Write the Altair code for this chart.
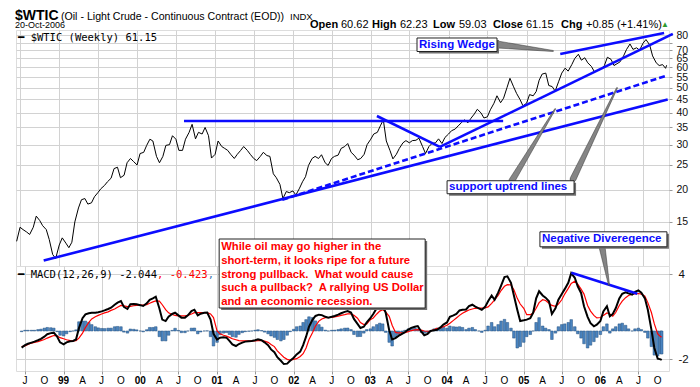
import altair as alt
import pandas as pd

# ---------------- data ----------------
# sample dates: mid-June 1998, then the 1st and 15th of each month, then the last weekly close
dates = ["1998-06-15"] + [f"1998-{m:02d}-{d:02d}" for m in range(7, 13) for d in (1, 15)]
for yr in range(1999, 2006):
    dates += [f"{yr}-{m:02d}-{d:02d}" for m in range(1, 13) for d in (1, 15)]
dates += [f"2006-{m:02d}-{d:02d}" for m in range(1, 11) for d in (1, 15)] + ["2006-10-20"]

price_1998 = [12.6, 14.3, 14.0, 13.7, 13.4, 14.3, 15.8, 15.2, 14.5, 14.0, 12.8, 11.2, 10.8]
price_1999 = [12.2, 13.0, 12.4, 11.9, 12.5, 15.0, 17.0, 18.3, 18.5, 17.6, 17.8, 18.8,
              19.5, 20.2, 20.8, 21.5, 22.2, 24.2, 24.5, 22.3, 22.8, 25.5, 26.5, 25.8]
price_2000 = [25.0, 27.7, 28.0, 29.8, 31.5, 31.0, 27.0, 25.5, 27.0, 29.8, 30.0, 32.5,
              31.5, 28.5, 28.5, 31.5, 33.5, 36.0, 31.6, 33.5, 33.0, 35.0, 32.5, 26.6]
price_2001 = [27.5, 31.0, 29.5, 29.0, 28.5, 27.5, 26.5, 27.5, 28.5, 29.5, 28.5, 27.5,
              26.5, 26.0, 27.0, 28.0, 27.2, 27.0, 23.1, 22.3, 21.0, 18.5, 19.7, 19.5]
price_2002 = [19.8, 19.1, 20.3, 21.5, 22.5, 24.9, 26.5, 27.0, 26.5, 27.4, 25.5, 24.9,
              26.5, 27.0, 27.3, 29.0, 29.5, 30.3, 28.0, 27.3, 26.2, 26.5, 27.5, 30.0]
price_2003 = [31.5, 33.0, 33.5, 35.5, 37.5, 31.0, 28.5, 26.4, 27.5, 29.0, 30.5, 31.1,
              30.5, 31.1, 31.2, 31.8, 29.5, 27.7, 29.5, 30.3, 30.5, 31.6, 30.3, 32.0]
price_2004 = [33.0, 34.0, 34.5, 35.5, 36.5, 37.5, 36.5, 38.0, 39.5, 41.2, 39.9, 38.1,
              38.5, 41.0, 43.5, 46.5, 43.7, 45.5, 50.0, 54.4, 50.4, 47.5, 45.0, 42.5]
price_2005 = [43.5, 47.0, 46.5, 48.3, 53.5, 56.5, 57.0, 51.0, 50.5, 48.5, 53.0, 57.0,
              59.6, 58.0, 61.5, 65.0, 67.5, 64.0, 65.4, 62.5, 60.5, 57.7, 58.5, 59.0]
price_2006 = [61.0, 65.7, 64.5, 61.0, 62.0, 63.0, 66.5, 70.5, 74.0, 70.5, 71.5, 70.0,
              74.5, 77.0, 73.5, 66.5, 62.5, 61.0, 61.5, 59.5, 61.15]

macd_1998 = [-1.17, -1.0, -0.9, -0.82, -0.75, -0.65, -0.55, -0.4, -0.23, -0.15, -0.12, -0.4, -0.8]
macd_1999 = [-0.94, -0.8, -0.72, -0.70, -0.6, 0.2, 0.9, 1.17, 1.25, 1.29, 1.29, 1.32,
             1.38, 1.45, 1.55, 1.64, 1.85, 2.0, 2.11, 1.7, 1.55, 1.88, 1.9, 1.88]
macd_2000 = [1.82, 1.76, 1.95, 2.2, 2.3, 2.42, 1.6, 0.8, 0.7, 1.0, 1.2, 1.29,
             1.1, 0.94, 0.94, 1.1, 1.4, 1.5, 1.1, 1.22, 1.29, 1.3, 0.8, -0.2]
macd_2001 = [-0.6, -0.47, -0.45, -0.47, -0.7, -0.95, -1.06, -0.92, -0.82, -0.75, -0.72, -0.70,
             -0.65, -0.59, -0.65, -0.8, -1.0, -1.3, -1.5, -1.85, -2.1, -2.33, -2.3, -2.1]
macd_2002 = [-1.88, -1.65, -1.45, -1.0, -0.4, 0.3, 0.8, 1.06, 1.15, 1.12, 1.0, 0.94,
             1.0, 1.06, 1.15, 1.25, 1.35, 1.41, 1.3, 0.85, 0.5, 0.21, 0.3, 0.6]
macd_2003 = [0.9, 1.2, 1.62, 1.78, 1.82, 1.3, 0.05, -0.6, -0.5, -0.35, -0.2, -0.08,
             0.1, 0.22, 0.3, 0.35, -0.05, -0.3, -0.2, 0.0, 0.05, 0.09, 0.25, 0.45]
macd_2004 = [0.6, 1.0, 1.1, 1.2, 1.45, 1.5, 1.52, 1.75, 1.85, 1.72, 1.6, 1.5,
             1.7, 2.1, 2.5, 2.2, 2.7, 3.2, 3.8, 3.85, 3.4, 2.5, 1.5, 0.7]
macd_2005 = [0.75, 0.8, 0.9, 1.3, 2.3, 2.8, 2.5, 2.35, 2.1, 1.2, 1.6, 2.2,
             2.6, 2.95, 3.4, 4.08, 3.75, 3.15, 2.68, 1.74, 1.0, 0.55, 0.33, 0.45]
macd_2006 = [0.7, 1.38, 1.74, 1.03, 1.2, 1.6, 2.3, 2.62, 2.72, 2.65, 2.56, 2.75,
             2.86, 2.7, 2.3, 1.5, 0.1, -1.2, -1.95, -2.0, -2.044]

sig_1998 = [-1.1, -1.05, -0.95, -0.85, -0.8, -0.75, -0.68, -0.6, -0.5, -0.4, -0.32, -0.35, -0.47]
sig_1999 = [-0.55, -0.62, -0.68, -0.70, -0.68, -0.5, -0.15, 0.25, 0.6, 0.85, 1.0, 1.1,
            1.2, 1.28, 1.35, 1.45, 1.55, 1.68, 1.8, 1.78, 1.72, 1.74, 1.78, 1.8]
sig_2000 = [1.82, 1.82, 1.86, 1.95, 2.05, 2.12, 2.1, 1.85, 1.5, 1.28, 1.16, 1.1,
            1.06, 1.06, 1.06, 1.1, 1.2, 1.29, 1.3, 1.29, 1.29, 1.29, 1.2, 0.95]
sig_2001 = [0.0, -0.2, -0.3, -0.36, -0.45, -0.55, -0.62, -0.68, -0.7, -0.7, -0.7, -0.7,
            -0.7, -0.68, -0.68, -0.72, -0.8, -0.95, -1.1, -1.4, -1.65, -1.85, -2.0, -2.05]
sig_2002 = [-2.0, -1.95, -1.8, -1.6, -1.2, -0.6, -0.1, 0.35, 0.7, 0.85, 0.94, 0.95,
            0.95, 1.0, 1.05, 1.1, 1.15, 1.2, 1.2, 1.1, 0.9, 0.6, 0.45, 0.5]
sig_2003 = [0.8, 0.92, 1.2, 1.4, 1.5, 1.35, 1.03, 0.4, -0.1, -0.14, -0.14, -0.12,
            -0.05, 0.03, 0.08, 0.1, 0.06, 0.0, -0.02, 0.0, 0.1, 0.18, 0.21, 0.3]
sig_2004 = [0.4, 0.55, 0.75, 0.92, 1.1, 1.25, 1.38, 1.48, 1.55, 1.6, 1.62, 1.62,
            1.62, 1.7, 1.95, 2.2, 2.5, 2.85, 3.15, 3.26, 3.25, 2.9, 2.3, 1.9]
sig_2005 = [1.6, 1.15, 1.15, 1.27, 1.6, 2.0, 2.2, 2.15, 1.95, 1.8, 1.74, 1.9,
            2.2, 2.6, 3.0, 3.35, 3.5, 3.3, 2.95, 2.6, 1.8, 1.4, 1.1, 0.92]
sig_2006 = [0.95, 1.1, 1.27, 1.2, 1.05, 1.3, 1.8, 2.1, 2.35, 2.5, 2.6, 2.62,
            2.64, 2.6, 2.45, 2.0, 1.3, 0.5, -0.2, -0.4, -0.423]

hist_1998 = [-0.05, 0.05, 0.05, 0.05, 0.05, 0.1, 0.13, 0.2, 0.25, 0.23, 0.2, -0.05, -0.3]
hist_1999 = [-0.35, -0.2, -0.05, 0.0, 0.08, 0.65, 0.7, 0.7, 0.6, 0.45, 0.3, 0.22,
             0.18, 0.17, 0.2, 0.2, 0.3, 0.32, 0.3, -0.08, -0.15, 0.14, 0.12, 0.08]
hist_2000 = [0.0, -0.06, 0.09, 0.25, 0.25, 0.3, -0.4, -0.7, -0.7, -0.3, 0.04, 0.19,
             0.04, -0.12, -0.12, 0.0, 0.2, 0.21, -0.2, -0.07, 0.0, 0.01, -0.4, -1.06]
hist_2001 = [-0.8, -0.27, -0.15, -0.11, -0.25, -0.4, -0.44, -0.24, -0.12, -0.05, -0.02, 0.0,
             0.05, 0.09, 0.03, -0.08, -0.2, -0.35, -0.45, -0.6, -0.7, -0.6, -0.3, -0.05]
hist_2002 = [0.12, 0.3, 0.35, 0.6, 0.8, 1.0, 0.95, 0.71, 0.45, 0.27, 0.06, 0.0,
             0.05, 0.06, 0.1, 0.15, 0.2, 0.21, 0.1, -0.25, -0.4, -0.39, -0.15, 0.1]
hist_2003 = [0.15, 0.3, 0.45, 0.55, 0.5, -0.1, -0.8, -1.06, -0.45, -0.25, -0.1, 0.05,
             0.15, 0.2, 0.2, 0.15, -0.1, -0.15, -0.1, 0.0, 0.15, 0.2, 0.25, 0.3]
hist_2004 = [0.2, 0.35, 0.3, 0.28, 0.3, 0.25, 0.1, 0.2, 0.25, 0.1, 0.0, -0.1,
             0.05, 0.35, 0.6, 0.3, 0.45, 0.7, 0.82, 0.6, 0.2, -0.5, -1.2, -1.1]
hist_2005 = [-0.8, -0.4, -0.25, 0.0, 0.6, 0.94, 0.35, 0.2, 0.1, -0.6, -0.15, 0.3,
             0.45, 0.5, 0.6, 0.8, 0.3, -0.2, -0.5, -0.9, -1.2, -1.0, -0.75, -0.45]
hist_2006 = [-0.25, 0.3, 0.5, -0.15, 0.15, 0.3, 0.5, 0.55, 0.4, 0.15, 0.0, 0.15,
             0.2, 0.1, -0.1, -0.5, -1.1, -1.7, -1.75, -1.6, -1.621]

price = price_1998 + price_1999 + price_2000 + price_2001 + price_2002 + price_2003 + price_2004 + price_2005 + price_2006
macd = macd_1998 + macd_1999 + macd_2000 + macd_2001 + macd_2002 + macd_2003 + macd_2004 + macd_2005 + macd_2006
signal = sig_1998 + sig_1999 + sig_2000 + sig_2001 + sig_2002 + sig_2003 + sig_2004 + sig_2005 + sig_2006
hist = hist_1998 + hist_1999 + hist_2000 + hist_2001 + hist_2002 + hist_2003 + hist_2004 + hist_2005 + hist_2006
assert len(dates) == len(price) == len(macd) == len(signal) == len(hist)

# trend lines drawn on the price panel (start date, end date, start price, end price)
tl_start = ["2000-08-08", "2003-01-30", "1998-10-20", "2003-11-21", "2005-06-08"]
tl_end = ["2004-09-13", "2003-11-21", "2006-10-25", "2006-11-18", "2006-10-08"]
tl_p1 = [37.1, 38.8, 10.6, 29.4, 67.7]
tl_p2 = [37.1, 29.4, 45.0, 81.0, 81.7]
dash_start, dash_end, dash_p1, dash_p2 = ["2001-11-12"], ["2006-10-17"], [18.3], [55.6]
# MACD divergence line
div_start, div_end, div_v1, div_v2 = ["2005-08-16"], ["2006-06-26"], [4.1], [2.63]

# callout pointers (id, date, value, width)
ptr_id = ["rw", "rw", "s1", "s1", "s2", "s2"]
ptr_date = ["2004-08-15", "2005-05-05", "2004-10-24", "2005-05-15", "2005-08-07", "2006-03-01"]
ptr_price = [73.7, 69.5, 21.7, 41.3, 22.05, 49.9]
ptr_w = [7, 1, 6, 1, 6, 1]
nd_ptr_date = ["2006-01-09", "2006-02-11"]
nd_ptr_val = [5.92, 3.24]
nd_ptr_w = [6, 1]

# x-axis tick labels (quarters)
tick_dates = [f"{y}-{m:02d}-01" for y in range(1998, 2007) for m in (1, 4, 7, 10)
              if (1998, 7) <= (y, m) <= (2006, 10)]
tick_labels = ["J", "O", "99", "A", "J", "O", "00", "A", "J", "O", "01", "A", "J", "O",
               "02", "A", "J", "O", "03", "A", "J", "O", "04", "A", "J", "O", "05", "A",
               "J", "O", "06", "A", "J", "O"]
assert len(tick_dates) == len(tick_labels)

quote_names = ["Open", "High", "Low", "Close", "Chg"]
quote_values = ["60.62", "62.23", "59.03", "61.15", "+0.85 (+1.41%)"]
price_ticks = [15, 20, 25, 30, 35, 40, 45, 50, 55, 60, 65, 70, 75, 80]
macd_ticks = [-2, 0, 2, 4]
note_lines = ["While oil may go higher in the",
              "short-term, it looks ripe for a future",
              "strong pullback.\u00a0 What would cause",
              "such a pullback?\u00a0 A rallying US Dollar",
              "and an economic recession."]

# ---------------- styling ----------------
BLUE = "#0c0cff"
GRID = "#d2d2d2"
FONT = "Liberation Sans"
MONO = "DejaVu Sans Mono"
W, H_PRICE, H_MACD = 653, 236, 105


def ms(s):
    return int(pd.Timestamp(s, tz="UTC").value // 10**6)


xs = alt.Scale(type="utc", domain=[alt.DateTime(year=1998, month=6, date=12, utc=True),
                                   alt.DateTime(year=2006, month=10, date=31, utc=True)])
quarters = [alt.DateTime(year=int(d[:4]), month=int(d[5:7]), date=1, utc=True) for d in tick_dates]


def label(s, x, y, size=11, weight="normal", color="black", font=FONT, baseline="alphabetic"):
    return alt.Chart(pd.DataFrame({"s": [s]})).mark_text(
        align="left", baseline=baseline, font=font, fontSize=size, fontWeight=weight, color=color
    ).encode(x=alt.value(x), y=alt.value(y), text="s:N")


def box(t, v, w, h, text, color, size, dy, baseline="middle", line_h=None):
    """Callout box whose top-left corner is anchored at (date t, value v)."""
    df = pd.DataFrame({"t": [ms(t)], "v": [v], "s": [text]})
    base = alt.Chart(df).encode(x="t:T", x2="t", y="v:Q", y2="v")
    shadow = base.mark_rect(xOffset=2, x2Offset=w + 2, yOffset=2, y2Offset=h + 2, fill="#707070")
    frame = base.mark_rect(x2Offset=w, y2Offset=h, fill="white", stroke="#222", strokeWidth=1)
    kw = dict(align="left", baseline=baseline, dx=2, dy=dy, font=FONT, fontSize=size,
              fontWeight="bold", color=color)
    if line_h:
        kw.update(lineBreak="\n", lineHeight=line_h)
    txt = alt.Chart(df).mark_text(**kw).encode(x="t:T", y="v:Q", text="s:N")
    return [shadow, frame, txt]


def note_box(t, y_top, w, h, text, color, size, line_h):
    """Callout box anchored at date t horizontally and at pixel row y_top of the panel."""
    df = pd.DataFrame({"t": [ms(t)], "s": [text]})
    base = alt.Chart(df)
    shadow = base.mark_rect(xOffset=2, x2Offset=w + 2, fill="#707070").encode(
        x="t:T", x2="t", y=alt.value(y_top + 2), y2=alt.value(y_top + h + 2))
    frame = base.mark_rect(x2Offset=w, fill="white", stroke="#222", strokeWidth=1).encode(
        x="t:T", x2="t", y=alt.value(y_top), y2=alt.value(y_top + h))
    txt = base.mark_text(align="left", baseline="top", dx=2, font=FONT, fontSize=size,
                         fontWeight="bold", color=color, lineBreak="\n",
                         lineHeight=line_h).encode(
        x="t:T", y=alt.value(y_top + 2.2), text="s:N")
    return [shadow, frame, txt]


def trail(ids, ds, vs, ws, yname):
    df = pd.DataFrame({"id": ids, "t": [ms(d) for d in ds], yname: vs, "w": ws})
    return alt.Chart(df).mark_trail(color="#858585", stroke="#333", strokeWidth=0.5).encode(
        x="t:T", y=f"{yname}:Q", size=alt.Size("w:Q", scale=None, legend=None), detail="id:N")


# ---------------- price panel ----------------
df_price = pd.DataFrame({"date": dates, "price": price})
price_line = alt.Chart(df_price).mark_line(color="black", strokeWidth=1).encode(
    x=alt.X("date:T", scale=xs, title=None,
            axis=alt.Axis(values=quarters, grid=True, gridColor=GRID, labels=False,
                          ticks=False, domain=False)),
    y=alt.Y("price:Q", title=None,
            scale=alt.Scale(type="log", domain=[10.1, 83.9], nice=False),
            axis=alt.Axis(orient="right", values=price_ticks, grid=True, gridColor=GRID,
                          labelExpr="datum.value == 75 ? '' : datum.label", labelOverlap=False,
                          tickSize=3, tickColor="#999", domain=False, labelFont=FONT,
                          labelFontSize=10.5, labelColor="#111", labelPadding=4)),
)

df_tl = pd.DataFrame({"t1": [ms(d) for d in tl_start], "t2": [ms(d) for d in tl_end],
                      "p1": tl_p1, "p2": tl_p2})
solid = alt.Chart(df_tl).mark_rule(color=BLUE, strokeWidth=2.6).encode(
    x="t1:T", x2="t2", y="p1:Q", y2="p2")
df_dash = pd.DataFrame({"t1": [ms(d) for d in dash_start], "t2": [ms(d) for d in dash_end],
                        "p1": dash_p1, "p2": dash_p2})
dashed = alt.Chart(df_dash).mark_rule(color=BLUE, strokeWidth=2.6, strokeDash=[6, 3]).encode(
    x="t1:T", x2="t2", y="p1:Q", y2="p2")

ptrs = trail(ptr_id, ptr_date, ptr_price, ptr_w, "price")

legend_price = label(f"\u2501 $WTIC (Weekly) {price[-1]:.2f}", 2, 10.5, size=10.5, font=MONO)

header = [
    label("$WTIC", -1, -10.5, size=14, weight="bold"),
    label("(Oil - Light Crude - Continuous Contract (EOD))", 45, -10.5, size=10.6),
    label("INDX", 274, -10.5, size=9.5),
    label("20-Oct-2006", -1, -2, size=9),
]
name_x = [294, 356, 417, 477, 545]
value_x = [325, 384, 443, 510, 570]
for n, v, nx, vx in zip(quote_names, quote_values, name_x, value_x):
    header.append(label(n, nx, -2.5, size=11, weight="bold"))
    header.append(label(v, vx, -2.5, size=11))
header.append(label("\u25b2", 645, -3, size=8, color="#2e9b2e"))

anchor = alt.Chart(pd.DataFrame({"s": [0]})).mark_rule(opacity=0).encode(
    x=alt.value(-7.5), y=alt.value(-20.5), y2=alt.value(-19))

top = alt.layer(
    price_line, solid, dashed, ptrs,
    *box("2003-08-06", 78.1, 80, 13.5, "Rising Wedge", BLUE, 11.5, 6.75),
    *box("2003-12-25", 21.7, 127, 13, "support uptrend lines", BLUE, 11.5, 6.5),
    legend_price, *header, anchor,
).properties(width=W, height=H_PRICE)

# ---------------- MACD panel ----------------
df_macd = pd.DataFrame({"date": dates, "macd": macd, "signal": signal, "hist": hist})
bars = alt.Chart(df_macd).mark_bar(width=2.6, color="#4a84c0", stroke="#24507f",
                                   strokeWidth=0.5).encode(
    x=alt.X("date:T", scale=xs, title=None,
            axis=alt.Axis(values=quarters, grid=True, gridColor=GRID, domain=False,
                          tickSize=3, tickColor="#999", labels=False)),
    y=alt.Y("hist:Q", title=None,
            scale=alt.Scale(domain=[-2.82, 4.58], nice=False, zero=False),
            axis=alt.Axis(orient="right", values=macd_ticks, grid=True, gridColor=GRID,
                          tickSize=3, tickColor="#999", domain=False, labelFont=FONT,
                          labelFontSize=11.5, labelColor="#111", labelPadding=6,
                          labelExpr="datum.value < 0 ? '-' + abs(datum.value) : '' + datum.value")),
    y2=alt.datum(0),
)
sig_line = alt.Chart(df_macd).mark_line(color="#ff0000", strokeWidth=1.2).encode(
    x="date:T", y="signal:Q")
macd_line = alt.Chart(df_macd).mark_line(color="black", strokeWidth=2).encode(
    x="date:T", y="macd:Q")
df_div = pd.DataFrame({"t1": [ms(d) for d in div_start], "t2": [ms(d) for d in div_end],
                       "v1": div_v1, "v2": div_v2})
div_rule = alt.Chart(df_div).mark_rule(color=BLUE, strokeWidth=2.6).encode(
    x="t1:T", x2="t2", y="v1:Q", y2="v2")
nd_ptr = trail(["nd", "nd"], nd_ptr_date, nd_ptr_val, nd_ptr_w, "macd")

# quarter tick labels along the bottom (years in bold)
df_ticks = pd.DataFrame({"t": [ms(d) for d in tick_dates], "s": tick_labels,
                         "yr": [len(s) == 2 for s in tick_labels]})
tick_month = alt.Chart(df_ticks).transform_filter("!datum.yr").mark_text(
    baseline="top", font=FONT, fontSize=10, color="black").encode(
    x="t:T", y=alt.value(H_MACD + 5), text="s:N")
tick_year = alt.Chart(df_ticks).transform_filter("datum.yr").mark_text(
    baseline="top", font=FONT, fontSize=10, fontWeight="bold", color="black").encode(
    x="t:T", y=alt.value(H_MACD + 5), text="s:N")

adv = 0.602 * 10.5
legend_macd = [
    label(f"\u2501 MACD(12,26,9) {macd[-1]:.3f}", 2, 11.5, size=10.5, font=MONO),
    label(f", {signal[-1]:.3f}", 2 + 22 * adv, 11.5, size=10.5, font=MONO, color="#ff0000"),
    label(", -", 2 + 30 * adv, 11.5, size=10.5, font=MONO, color="#3c78b4"),
]

bottom = alt.layer(
    bars, sig_line, macd_line, div_rule, tick_month, tick_year, *legend_macd, nd_ptr,
    *note_box("2001-01-11", -27, 206, 69, "\n".join(note_lines), "#ff0000", 11.3, 13.75),
    *box("2005-03-19", 6.99, 127, 15, "Negative Diveregence", BLUE, 11.5, 7.5),
).properties(width=W, height=H_MACD)

chart = alt.vconcat(top, bottom, spacing=0, bounds="flush").properties(
    padding={"left": 0, "top": 0, "right": 2, "bottom": 0}
).configure_view(stroke="#999", strokeWidth=1).configure(font=FONT, background="white")

chart.save("out.html", embed_options={"renderer": "svg", "actions": False})
